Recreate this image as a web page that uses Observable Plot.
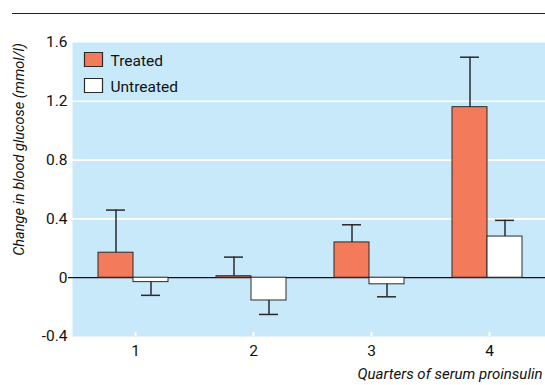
<!DOCTYPE html>
<html><head><meta charset="utf-8">
<script src="https://cdn.jsdelivr.net/npm/d3@7"></script>
<script src="https://cdn.jsdelivr.net/npm/@observablehq/plot@0.6"></script>
<style>
body{margin:0;background:#fff}
#wrap{position:relative;width:545px;height:385px}
#topline{position:absolute;left:12px;top:13px;width:533px;border-top:1.6px solid #222}
#wrap svg{position:absolute;left:0;top:0}
</style></head><body><div id="wrap"><div id="topline"></div></div>
<script>
const quarters = ["1", "2", "3", "4"];
const groups = ["Treated", "Untreated"];
const treatedMean = [0.17, 0.01, 0.24, 1.16];
const treatedSE = [0.29, 0.13, 0.12, 0.34];
const untreatedMean = [-0.03, -0.155, -0.045, 0.28];
const untreatedSE = [0.09, 0.095, 0.085, 0.11];
const yTicks = [-0.4, 0, 0.4, 0.8, 1.2, 1.6];
const gridTicks = [0.4, 0.8, 1.2];
const yLabel = "Change in blood glucose (mmol/l)";
const xLabel = "Quarters of serum proinsulin";

const colors = {Treated: "#f37b5c", Untreated: "#ffffff"};
const bg = "#c7e9f9";
const font = "Roboto, 'Liberation Sans', sans-serif";
const textInk = "#111";

function rows(g, means, ses) {
  return quarters.map((q, i) => ({
    quarter: q, group: g, mean: means[i],
    end: means[i] + Math.sign(means[i]) * ses[i]
  }));
}
const treated = rows("Treated", treatedMean, treatedSE);
const untreated = rows("Untreated", untreatedMean, untreatedSE);

const legendSym = {draw(ctx) { ctx.moveTo(-9, -7); ctx.lineTo(9, -7); ctx.lineTo(9, 7); ctx.lineTo(-9, 7); ctx.closePath(); }};

const ink = "#2a2a2a";
const chart = Plot.plot({
  width: 545,
  height: 385,
  marginTop: 42,
  marginBottom: 49,
  marginLeft: 72,
  marginRight: 0,
  style: {fontFamily: font, fontSize: "15.5px", background: "transparent", color: textInk},
  x: {domain: quarters, range: [74, 546], padding: 0},
  y: {domain: [-0.4, 1.6], ticks: yTicks},
  marks: [
    Plot.frame({fill: bg, stroke: null}),
    Plot.gridY(gridTicks, {stroke: "white", strokeOpacity: 1, strokeWidth: 1.6}),
    Plot.ruleY([0], {stroke: "#111", strokeWidth: 1.3, insetLeft: -4}),
    Plot.barY(treated, {x: "quarter", y: "mean", fill: colors.Treated, stroke: ink, strokeWidth: 1, insetLeft: 24, insetRight: 59}),
    Plot.barY(untreated, {x: "quarter", y: "mean", fill: colors.Untreated, stroke: ink, strokeWidth: 1, insetLeft: 59, insetRight: 24}),
    Plot.ruleX(treated, {x: "quarter", y1: "mean", y2: "end", dx: -17.5, stroke: ink, strokeWidth: 1.5}),
    Plot.ruleX(untreated, {x: "quarter", y1: "mean", y2: "end", dx: 17.5, stroke: ink, strokeWidth: 1.5}),
    Plot.tickY(treated, {x: "quarter", y: "end", insetLeft: 32, insetRight: 67, stroke: ink, strokeWidth: 1.5}),
    Plot.tickY(untreated, {x: "quarter", y: "end", insetLeft: 67, insetRight: 32, stroke: ink, strokeWidth: 1.5}),
    Plot.axisY({ticks: yTicks, tickSize: 0, tickPadding: 5, label: null, tickFormat: d => d === 0 ? "0" : d.toFixed(1), fontSize: 15.5, fill: textInk}),
    Plot.axisX({tickSize: 0, tickPadding: 8, label: null, dx: 2, fontSize: 15.5, fill: textInk}),
    Plot.tickX(quarters, {x: d => d, stroke: "white", strokeWidth: 2, dx: 2, insetTop: 290}),
    Plot.dot(groups, {frameAnchor: "top-left", dx: 21, dy: 17, symbol: legendSym, r: 5, fill: d => colors[d], stroke: ink, strokeWidth: 1.2, filter: d => d === "Treated"}),
    Plot.dot(groups, {frameAnchor: "top-left", dx: 21, dy: 43, symbol: legendSym, r: 5, fill: d => colors[d], stroke: ink, strokeWidth: 1.2, filter: d => d === "Untreated"}),
    Plot.text(groups, {frameAnchor: "top-left", text: d => d, dx: 38, dy: 12, textAnchor: "start", fontSize: 15.5, fill: textInk, filter: d => d === "Treated"}),
    Plot.text(groups, {frameAnchor: "top-left", text: d => d, dx: 38, dy: 38, textAnchor: "start", fontSize: 15.5, fill: textInk, filter: d => d === "Untreated"}),
    Plot.text([yLabel], {frameAnchor: "left", text: d => d, rotate: -90, textAnchor: "middle", dx: -53, dy: -40, fontSize: 14.5, fontStyle: "italic", fill: textInk}),
    Plot.text([xLabel], {frameAnchor: "bottom-right", text: d => d, dx: -3, dy: 42, textAnchor: "end", fontSize: 15, fontStyle: "italic", fill: textInk})
  ]
});
document.getElementById("wrap").appendChild(chart);
</script></body></html>
